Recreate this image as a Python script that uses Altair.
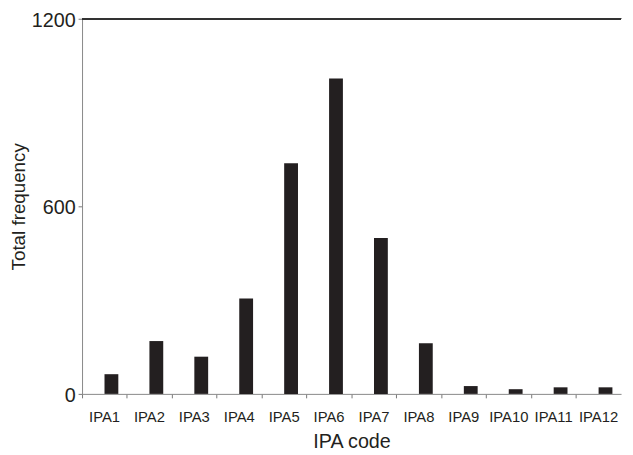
import altair as alt
import pandas as pd

codes = ["IPA1", "IPA2", "IPA3", "IPA4", "IPA5", "IPA6",
         "IPA7", "IPA8", "IPA9", "IPA10", "IPA11", "IPA12"]
freq = [63, 169, 119, 305, 738, 1009, 499, 162, 25, 15, 21, 21]
y_ticks = [0, 600, 1200]

df = pd.DataFrame({"code": codes, "freq": freq})

FONT = "Liberation Sans"
INK = "#231f20"

bars = alt.Chart(df).mark_bar(color=INK, width=14, xOffset=7).encode(
    x=alt.X(
        "code:N", sort=codes,
        scale=alt.Scale(paddingInner=0, paddingOuter=0),
        axis=alt.Axis(
            title="IPA code", labelAngle=0, bandPosition=0,
            labelFontSize=15, labelPadding=12, labelColor=INK, labelFont=FONT,
            tickSize=4, tickColor="#777777", domainColor="#888888",
            titleFontSize=20, titleFont=FONT, titleFontWeight="normal",
            titleColor=INK, titlePadding=7,
        ),
    ),
    y=alt.Y(
        "freq:Q",
        scale=alt.Scale(domain=[0, 1200], nice=False),
        axis=alt.Axis(
            values=y_ticks, format="d", title="Total frequency", grid=False,
            labelFontSize=20, labelPadding=3, labelOffset=1.5,
            labelColor=INK, labelFont=FONT,
            tickSize=4, tickColor="#777777", domainColor="#888888",
            titleFontSize=19, titleFont=FONT, titleFontWeight="normal",
            titleColor=INK, titlePadding=3,
        ),
    ),
)

top = alt.Chart(df).mark_rule(color="#333333", strokeWidth=1.3).encode(
    y=alt.datum(1200)
)

chart = alt.layer(bars, top).properties(
    width=546, height=380,
    padding={"left": 75, "top": 8, "right": 4, "bottom": 58},
    autosize=alt.AutoSizeParams(type="none"),
).configure_view(stroke=None)

chart.save("out.html", embed_options={"renderer": "svg", "actions": False})
